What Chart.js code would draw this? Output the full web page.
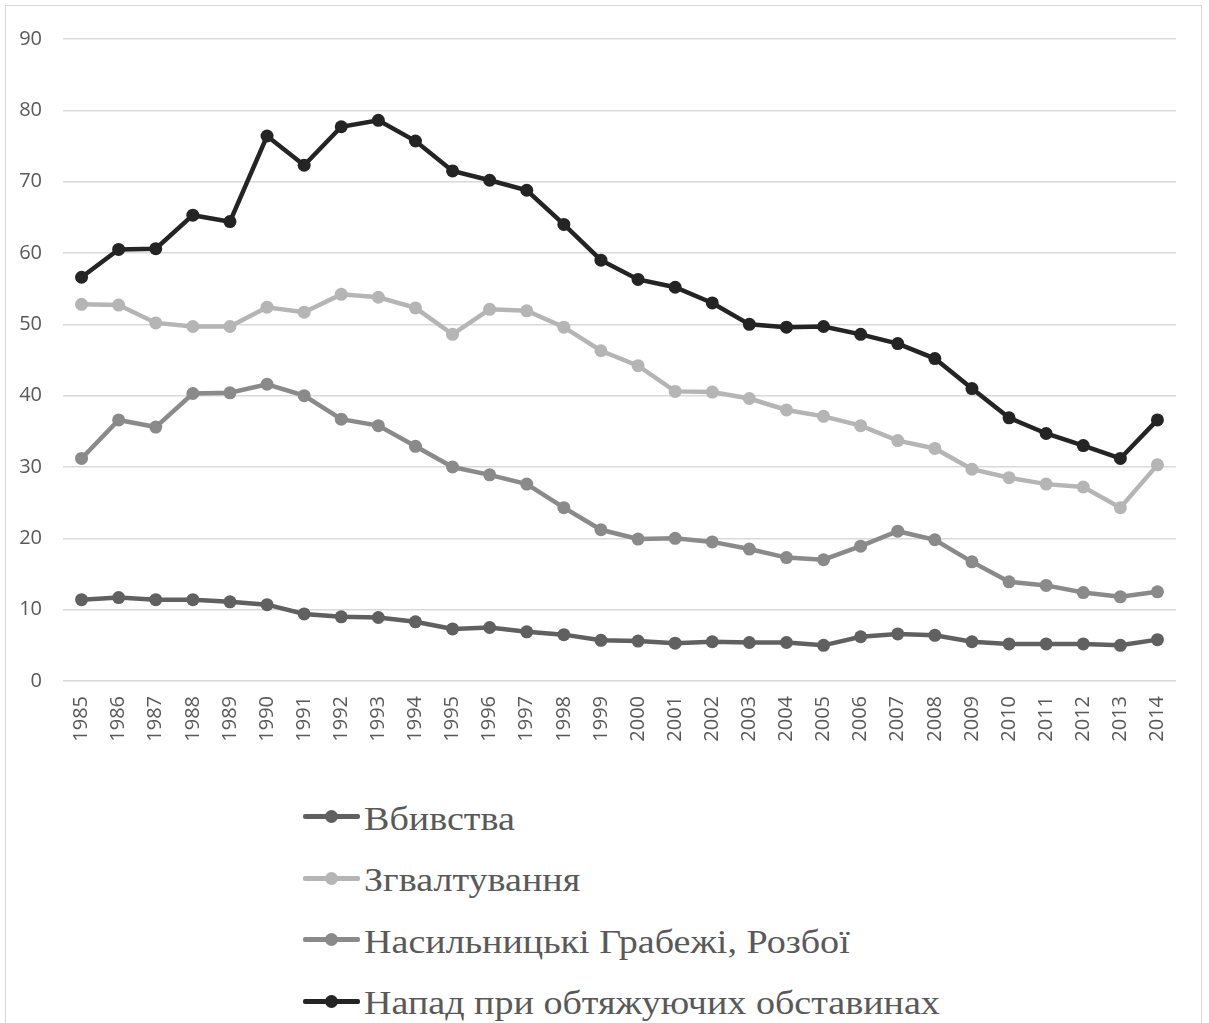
<!DOCTYPE html>
<html>
<head>
<meta charset="utf-8">
<script src="https://cdn.jsdelivr.net/npm/chart.js@4/dist/chart.umd.min.js"></script>
<style>
  body { margin: 0; background: #fff; }
  #frame { position: absolute; left: 5px; top: 5px; width: 1195px; height: 1030px; border: 1px solid #d9d9d9; background: #fff; }
  #wrap { position: absolute; left: 0; top: 0; width: 1195px; height: 745px; }
  #legend { position: absolute; left: 297px; top: 780px; font-family: "Liberation Serif", serif; font-size: 34px; color: #595959; }
  .item { height: 61.5px; display: flex; align-items: center; }
  .sw { position: relative; width: 57px; height: 5px; margin-right: 4px; border-radius: 2px; }
  .sw i { position: absolute; left: 22px; top: -4px; width: 13px; height: 13px; border-radius: 50%; }
  .txt { display: inline-block; transform: scaleX(1.12); transform-origin: left center; margin-top: 4px; }
</style>
</head>
<body>
<div id="frame">
  <div id="wrap"><canvas id="myChart"></canvas></div>
  <div id="legend"></div>
</div>
<script>
const years = ['1985', '1986', '1987', '1988', '1989', '1990', '1991', '1992', '1993', '1994',
  '1995', '1996', '1997', '1998', '1999', '2000', '2001', '2002', '2003', '2004',
  '2005', '2006', '2007', '2008', '2009', '2010', '2011', '2012', '2013', '2014'];
const murders = [11.4, 11.7, 11.4, 11.4, 11.1, 10.7, 9.4, 9.0, 8.9, 8.3,
  7.3, 7.5, 6.9, 6.5, 5.7, 5.6, 5.3, 5.5, 5.4, 5.4,
  5.0, 6.2, 6.6, 6.4, 5.5, 5.2, 5.2, 5.2, 5.0, 5.8];
const rapes = [52.8, 52.7, 50.2, 49.7, 49.7, 52.4, 51.7, 54.2, 53.8, 52.3,
  48.6, 52.1, 51.9, 49.6, 46.3, 44.2, 40.6, 40.5, 39.6, 38.0,
  37.1, 35.8, 33.7, 32.6, 29.7, 28.5, 27.6, 27.2, 24.3, 30.3];
const robberies = [31.2, 36.6, 35.6, 40.3, 40.4, 41.6, 40.0, 36.7, 35.8, 32.9,
  30.0, 28.9, 27.6, 24.3, 21.2, 19.9, 20.0, 19.5, 18.5, 17.3,
  17.0, 18.9, 21.0, 19.8, 16.7, 13.9, 13.4, 12.4, 11.8, 12.5];
const assaults = [56.6, 60.5, 60.6, 65.3, 64.4, 76.4, 72.3, 77.7, 78.6, 75.7,
  71.5, 70.2, 68.8, 64.0, 59.0, 56.3, 55.2, 53.0, 50.0, 49.6,
  49.7, 48.6, 47.3, 45.2, 41.0, 36.9, 34.7, 33.0, 31.2, 36.6];
const seriesNames = ['Вбивства', 'Згвалтування', 'Насильницькі Грабежі, Розбої', 'Напад при обтяжуючих обставинах'];
const seriesColors = ['#606060', '#b5b5b5', '#8a8a8a', '#242424'];
const yTicks = [0, 10, 20, 30, 40, 50, 60, 70, 80, 90];

const seriesData = [murders, rapes, robberies, assaults];
const datasets = seriesData.map((d, i) => ({
  label: seriesNames[i],
  data: d,
  borderColor: seriesColors[i],
  backgroundColor: seriesColors[i],
  borderWidth: 4.5,
  pointRadius: 6.5,
  pointHoverRadius: 6.5,
  pointBorderWidth: 0,
  tension: 0
}));

const ctx = document.getElementById('myChart').getContext('2d');
new Chart(ctx, {
  type: 'line',
  data: { labels: years, datasets: datasets },
  options: {
    responsive: true,
    maintainAspectRatio: false,
    animation: false,
    layout: { padding: { top: 32, right: 25, left: 0, bottom: 0 } },
    plugins: { legend: { display: false }, tooltip: { enabled: false } },
    scales: {
      x: {
        offset: true,
        grid: { display: false, drawTicks: false },
        border: { display: false },
        ticks: {
          color: '#595959',
          font: { family: 'Open Sans', size: 20 },
          minRotation: 90, maxRotation: 90,
          padding: 15, autoSkip: false
        },
        afterFit: s => { s.height = 70; }
      },
      y: {
        min: 0, max: 90,
        afterBuildTicks: s => { s.ticks = yTicks.map(v => ({ value: v })); },
        grid: { color: '#d9d9d9', lineWidth: 1.5, drawTicks: false },
        border: { display: false },
        ticks: { color: '#595959', font: { family: 'Open Sans', size: 20 }, padding: 21 },
        afterFit: s => { s.width = 57; }
      }
    }
  }
});

const legend = document.getElementById('legend');
seriesNames.forEach((name, i) => {
  const row = document.createElement('div');
  row.className = 'item';
  row.innerHTML = '<span class="sw" style="background:' + seriesColors[i] + '"><i style="background:' +
    seriesColors[i] + '"></i></span><span class="txt">' + name + '</span>';
  legend.appendChild(row);
});
</script>
</body>
</html>
